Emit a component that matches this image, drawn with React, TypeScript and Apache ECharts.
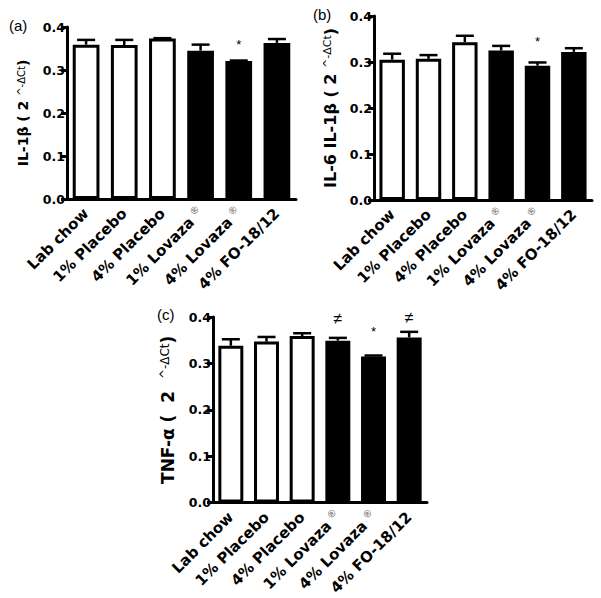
import React, { useEffect, useRef } from "react";
import * as echarts from "echarts";

const categories = ["Lab chow", "1% Placebo", "4% Placebo", "1% Lovaza®", "4% Lovaza®", "4% FO-18/12"];
const barColors = ["#ffffff", "#ffffff", "#ffffff", "#000000", "#000000", "#000000"];

const valuesA = [0.359, 0.358, 0.373, 0.345, 0.321, 0.363];
const semA = [0.011, 0.012, 0.001, 0.014, 0.001, 0.009];
const marksA = ["", "", "", "", "*", ""];
const markYA = [0, 0, 0, 0, 0.36, 0];

const valuesB = [0.305, 0.307, 0.343, 0.325, 0.292, 0.322];
const semB = [0.013, 0.008, 0.014, 0.010, 0.007, 0.008];
const marksB = ["", "", "", "", "*", ""];
const markYB = [0, 0, 0, 0, 0.345, 0];

const valuesC = [0.338, 0.347, 0.359, 0.349, 0.315, 0.356];
const semC = [0.014, 0.010, 0.006, 0.006, 0.002, 0.012];
const marksC = ["", "", "", "≠", "*", "≠"];
const markYC = [0, 0, 0, 0.397, 0.369, 0.398];

const yTicks = [0, 0.1, 0.2, 0.3, 0.4];

const titleA = "IL-1β ( 2 ";
const titleB = "IL-6 IL-1β ( 2 ";
const titleC = "TNF-α (  2  ";
const titleSup = "^-ΔCt";
const panelLetters = ["(a)", "(b)", "(c)"];

const FONT = "'Liberation Sans', Arial, Helvetica, sans-serif";
const FONT_B = "'DejaVu Sans', 'Liberation Sans', sans-serif";

export default function App() {
  const ref = useRef<HTMLDivElement>(null);
  useEffect(() => {
    if (!ref.current) return;
    const chart = echarts.init(ref.current, null, { renderer: "svg" });

    const grids = [
      { left: 67, top: 27, width: 229, height: 172 },
      { left: 374, top: 16, width: 218, height: 184 },
      { left: 213, top: 317, width: 214, height: 187 },
    ];
    const panels = [
      { values: valuesA, sem: semA, marks: marksA, markY: markYA, title: titleA, tSize: 14, sSize: 10, gap: 37 },
      { values: valuesB, sem: semB, marks: marksB, markY: markYB, title: titleB, tSize: 16, sSize: 11, gap: 36 },
      { values: valuesC, sem: semC, marks: marksC, markY: markYC, title: titleC, tSize: 17, sSize: 12, gap: 37 },
    ];

    const xAxis: any[] = [];
    const yAxis: any[] = [];
    const series: any[] = [];

    panels.forEach((p, i) => {
      xAxis.push({
        type: "category",
        gridIndex: i,
        data: categories,
        axisLine: { lineStyle: { color: "#000", width: 3 } },
        axisTick: { alignWithLabel: true, length: 6, lineStyle: { color: "#000", width: 3 } },
        axisLabel: {
          rotate: 45,
          interval: 0,
          margin: 12,
          color: "#000",
          fontSize: 15,
          fontWeight: "bold",
          fontFamily: FONT_B,
          formatter: (v: string) => v.replace("®", " {r|®}"),
          rich: {
            r: { fontSize: 10, color: "#777", fontFamily: FONT, verticalAlign: "top", padding: [0, 0, 10, 0] },
          },
        },
      });
      yAxis.push({
        type: "value",
        gridIndex: i,
        min: yTicks[0],
        max: yTicks[yTicks.length - 1],
        interval: 0.1,
        splitLine: { show: false },
        axisLine: { show: true, lineStyle: { color: "#000", width: 3 } },
        axisTick: { show: true, length: 6, lineStyle: { color: "#000", width: 3 } },
        axisLabel: {
          color: "#000",
          fontSize: 12.5,
          fontWeight: "bold",
          fontFamily: FONT_B,
          margin: 2,
          formatter: (v: number) => v.toFixed(1),
        },
        name: `{m|${p.title}}{s|${titleSup}}{m|)}`,
        nameLocation: "middle",
        nameGap: p.gap,
        nameTextStyle: {
          rich: {
            m: { fontSize: p.tSize, fontWeight: "bold", fontFamily: FONT_B, color: "#000" },
            s: { fontSize: p.sSize, fontFamily: FONT_B, color: "#000", verticalAlign: "top" },
          },
        },
      });
      series.push({
        type: "bar",
        xAxisIndex: i,
        yAxisIndex: i,
        barWidth: "70%",
        data: p.values.map((v, k) => ({
          value: v,
          itemStyle: { color: barColors[k], borderColor: "#000", borderWidth: 3 },
        })),
        z: 2,
      });
      series.push({
        type: "custom",
        xAxisIndex: i,
        yAxisIndex: i,
        z: 3,
        data: p.values.map((v, k) => [k, v, p.sem[k]]),
        renderItem: (params: any, api: any) => {
          const x = api.value(0);
          const v = api.value(1);
          const e = api.value(2);
          const base = api.coord([x, v]);
          const top = api.coord([x, v + e]);
          const half = 9;
          return {
            type: "group",
            children: [
              {
                type: "line",
                shape: { x1: base[0], y1: base[1], x2: top[0], y2: top[1] },
                style: { stroke: "#000", lineWidth: 2.5 },
              },
              {
                type: "line",
                shape: { x1: top[0] - half, y1: top[1], x2: top[0] + half, y2: top[1] },
                style: { stroke: "#000", lineWidth: 2.5 },
              },
            ],
          };
        },
      });
      series.push({
        type: "custom",
        xAxisIndex: i,
        yAxisIndex: i,
        z: 4,
        data: p.marks.map((m, k) => [k, p.markY[k]]),
        renderItem: (params: any, api: any) => {
          const txt = p.marks[params.dataIndex];
          if (!txt) return null;
          const pt = api.coord([api.value(0), api.value(1)]);
          return {
            type: "text",
            x: pt[0],
            y: pt[1],
            style: {
              text: txt,
              fontSize: txt === "*" ? 13 : 16,
              fontFamily: FONT,
              fill: "#000",
              align: "center",
              verticalAlign: "middle",
            },
          };
        },
      });
    });

    chart.setOption({
      animation: false,
      backgroundColor: "#fff",
      grid: grids,
      xAxis,
      yAxis,
      series,
      graphic: [
        { type: "text", left: 9, top: 18, style: { text: panelLetters[0], fontSize: 15, fontFamily: FONT, fill: "#000" } },
        { type: "text", left: 313, top: 7, style: { text: panelLetters[1], fontSize: 15, fontFamily: FONT, fill: "#000" } },
        { type: "text", left: 157, top: 307, style: { text: panelLetters[2], fontSize: 15, fontFamily: FONT, fill: "#000" } },
      ],
    });
    return () => chart.dispose();
  }, []);
  return <div ref={ref} style={{ position: "fixed", left: 0, top: 0, width: 601, height: 598, background: "#fff" }} />;
}
